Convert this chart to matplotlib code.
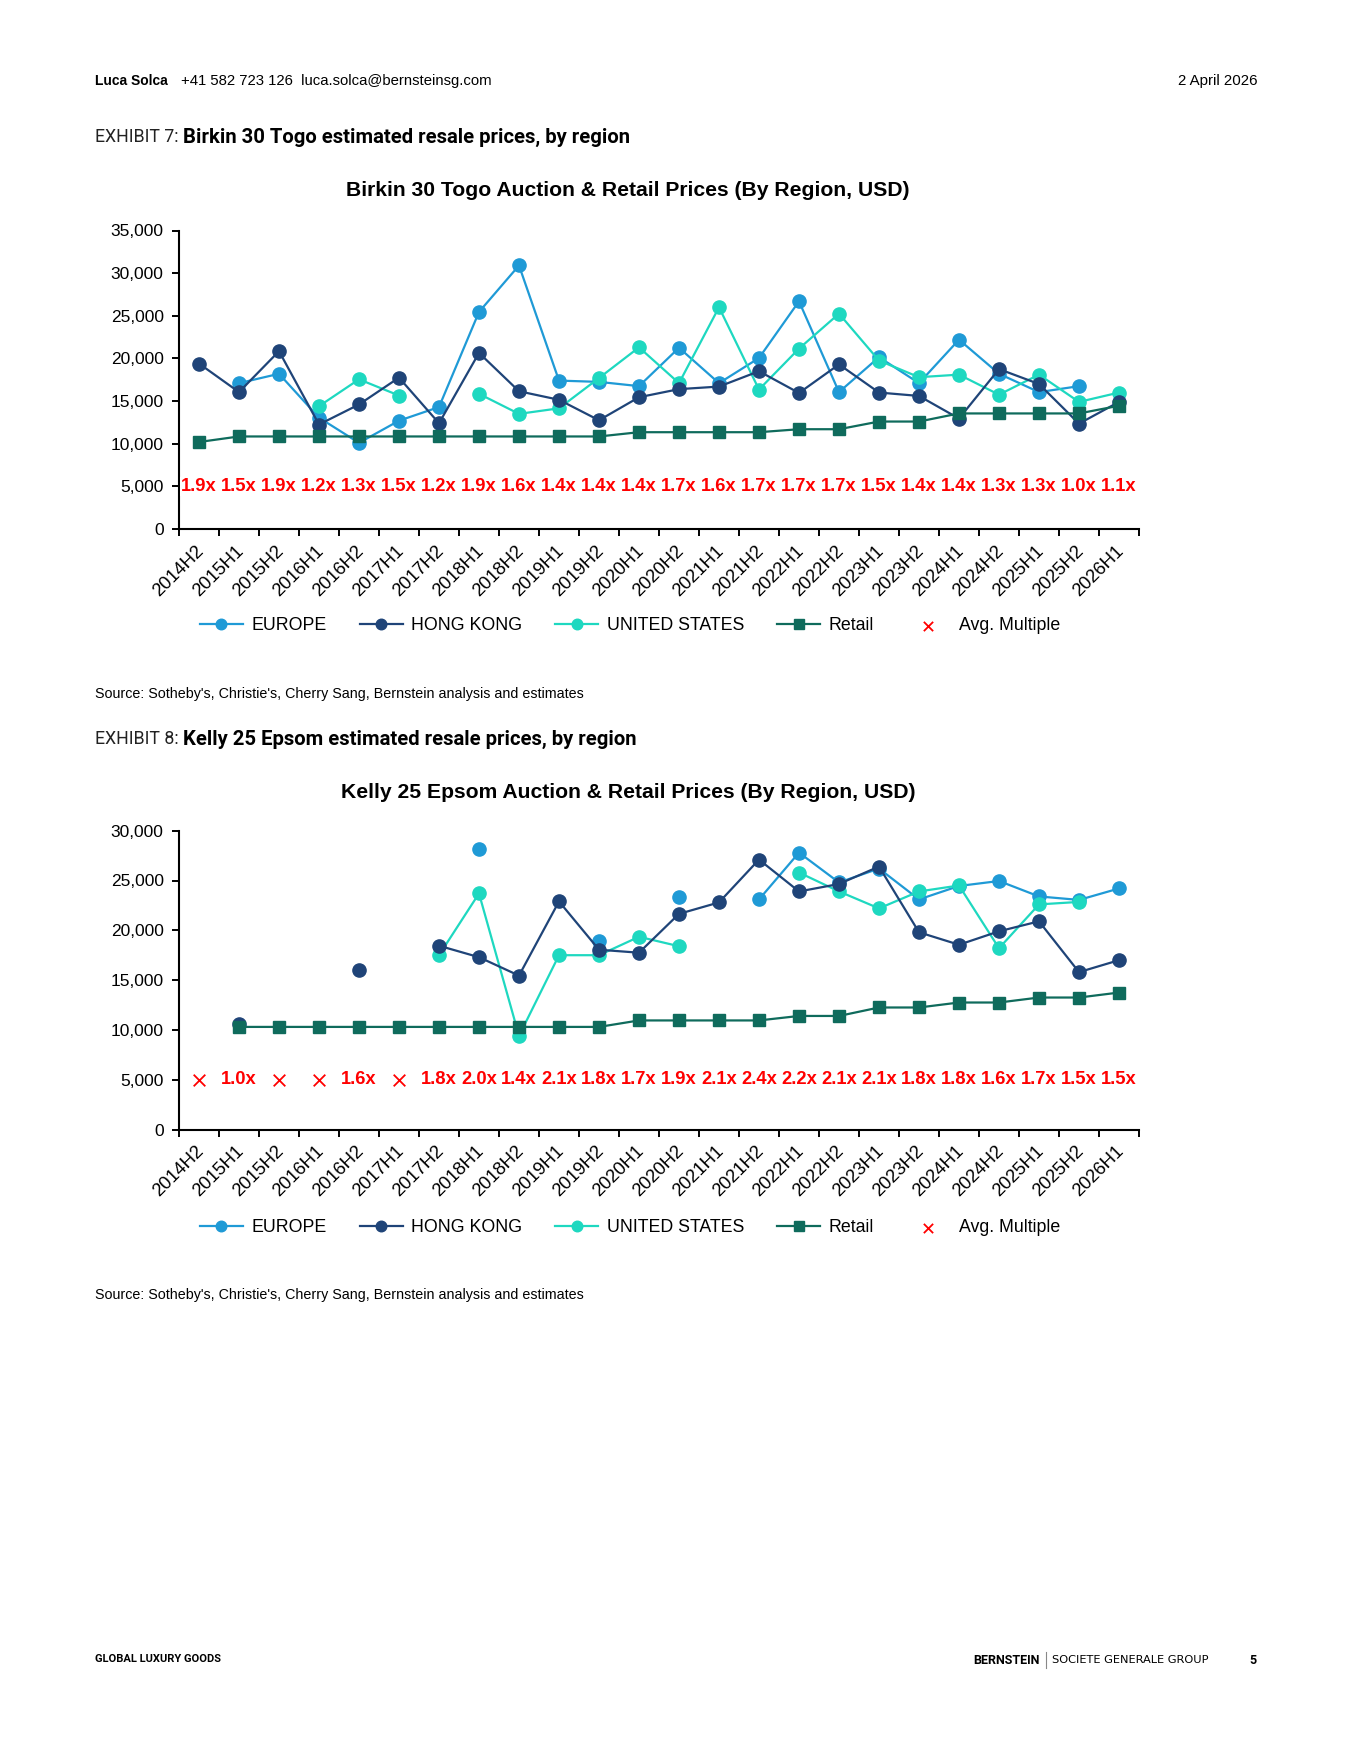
import numpy as np
import matplotlib
matplotlib.use("Agg")
import matplotlib.pyplot as plt
import matplotlib.transforms as mtransforms
from matplotlib.lines import Line2D
from matplotlib.ticker import FuncFormatter

nan = np.nan

# categories (half years)
cats = ['2014H2', '2015H1', '2015H2', '2016H1', '2016H2', '2017H1', '2017H2', '2018H1',
        '2018H2', '2019H1', '2019H2', '2020H1', '2020H2', '2021H1', '2021H2', '2022H1',
        '2022H2', '2023H1', '2023H2', '2024H1', '2024H2', '2025H1', '2025H2', '2026H1']

# Birkin 30 Togo
birkin_europe = [nan, 17100, 18200, 13050, 10100, 12700, 14300, 25450, 30900, 17400, 17250, 16750,
                 21250, 17100, 20050, 26700, 16050, 20150, 17100, 22200, 18200, 16050, 16750, nan]
birkin_hk = [19400, 16050, 20850, 12250, 14600, 17750, 12400, 20650, 16150, 15150, 12750, 15450,
             16400, 16700, 18500, 15950, 19300, 16000, 15600, 12950, 18750, 17000, 12350, 14900]
birkin_us = [nan, nan, nan, 14400, 17550, 15650, nan, 15850, 13500, 14150, 17700, 21300,
             17100, 26000, 16350, 21150, 25250, 19750, 17800, 18100, 15750, 18100, 14900, 16000]
birkin_retail = [10200, 10850, 10850, 10850, 10850, 10850, 10850, 10850, 10850, 10850, 10850, 11350,
                 11350, 11350, 11350, 11700, 11700, 12600, 12600, 13550, 13550, 13550, 13550, 14450]
birkin_mult = [1.9, 1.5, 1.9, 1.2, 1.3, 1.5, 1.2, 1.9, 1.6, 1.4, 1.4, 1.4,
               1.7, 1.6, 1.7, 1.7, 1.7, 1.5, 1.4, 1.4, 1.3, 1.3, 1.0, 1.1]

# Kelly 25 Epsom
kelly_europe = [nan, nan, nan, nan, nan, nan, nan, 28200, nan, nan, 18950, nan,
                23350, nan, 23100, 27800, 24800, 26200, 23100, 24450, 24950, 23400, 23050, 24200]
kelly_hk = [nan, 10600, nan, nan, 16000, nan, 18450, 17300, 15450, 22900, 18050, 17750,
            21650, 22800, 27100, 23900, 24650, 26400, 19800, 18550, 19900, 20900, 15800, 17000]
kelly_us = [nan, nan, nan, nan, nan, nan, 17500, 23700, 9400, 17500, 17500, 19350,
            18400, nan, nan, 25800, 23900, 22200, 23900, 24500, 18200, 22600, 22850, nan]
kelly_retail = [nan, 10300, 10300, 10300, 10300, 10300, 10300, 10300, 10300, 10300, 10300, 10950,
                10950, 10950, 10950, 11400, 11400, 12250, 12250, 12750, 12750, 13250, 13250, 13750]
kelly_mult = [nan, 1.0, nan, nan, 1.6, nan, 1.8, 2.0, 1.4, 2.1, 1.8, 1.7,
              1.9, 2.1, 2.4, 2.2, 2.1, 2.1, 1.8, 1.8, 1.6, 1.7, 1.5, 1.5]

MULT_Y = 5000

C_EU = '#1f9ad6'
C_HK = '#1f4478'
C_US = '#1ed8c0'
C_RT = '#0f6b5c'
C_RED = '#ff0000'

FONT = 'Liberation Sans'
plt.rcParams['font.family'] = [FONT, 'DejaVu Sans']

W, H = 1354, 1753
fig = plt.figure(figsize=(W / 100, H / 100), dpi=100)


def fx(px):
    return px / W


def fy(py):
    return 1 - py / H


def draw_chart(rect, europe, hk, us, retail, mult, ymax, title, title_y, legend_y):
    ax = fig.add_axes(rect)
    x = np.arange(len(cats))
    lw = 1.6
    ax.plot(x, europe, color=C_EU, lw=lw, marker='o', ms=9.5, label='EUROPE', zorder=4)
    ax.plot(x, hk, color=C_HK, lw=lw, marker='o', ms=9.5, label='HONG KONG', zorder=5)
    ax.plot(x, us, color=C_US, lw=lw, marker='o', ms=9.5, label='UNITED STATES', zorder=4)
    ax.plot(x, retail, color=C_RT, lw=lw, marker='s', ms=9, label='Retail', zorder=6)
    ax.scatter(x, [MULT_Y] * len(x), marker='x', color=C_RED, s=70, linewidths=1.3,
               label='Avg. Multiple', zorder=3, clip_on=False)
    for i, m in enumerate(mult):
        if not np.isnan(m):
            ax.text(i, MULT_Y, '%.1fx' % m, color=C_RED, fontsize=13.2, fontweight='bold',
                    ha='center', va='center', zorder=7, clip_on=False,
                    bbox=dict(boxstyle='square,pad=0.05', fc='white', ec='none'))

    ax.set_xlim(-0.5, len(cats) - 0.5)
    ax.set_ylim(0, ymax)
    ax.set_yticks(np.arange(0, ymax + 1, 5000))
    ax.yaxis.set_major_formatter(FuncFormatter(lambda v, p: '{:,.0f}'.format(v)))
    ax.set_xticks(x)
    ax.set_xticklabels(cats, rotation=45, ha='right', rotation_mode='anchor')
    ax.set_xticks(np.arange(-0.5, len(cats), 1), minor=True)
    ax.tick_params(axis='x', which='major', length=0, pad=8, labelsize=13.2)
    ax.tick_params(axis='x', which='minor', length=5, width=1.4, direction='out')
    ax.tick_params(axis='y', length=5, width=1.4, pad=6, labelsize=12.5)
    shift = mtransforms.ScaledTranslation(-4 / 100, -2 / 100, fig.dpi_scale_trans)
    for lab in ax.get_xticklabels():
        lab.set_transform(lab.get_transform() + shift)
    for s in ['top', 'right']:
        ax.spines[s].set_visible(False)
    for s in ['left', 'bottom']:
        ax.spines[s].set_linewidth(1.5)
        ax.spines[s].set_color('black')

    fig.text(fx(628), fy(title_y), title, fontsize=15.2, fontweight='bold',
             ha='center', va='center')

    handles, labels = ax.get_legend_handles_labels()
    fig.legend(handles, labels, loc='center', bbox_to_anchor=(fx(630), fy(legend_y)),
               ncol=5, frameon=False, fontsize=12.8, handlelength=2.4,
               handletextpad=0.5, columnspacing=1.85, markerscale=0.8)
    return ax


draw_chart([fx(179), fy(529), fx(1139) - fx(179), fy(230.5) - fy(529)],
           birkin_europe, birkin_hk, birkin_us, birkin_retail, birkin_mult, 35000,
           'Birkin 30 Togo Auction & Retail Prices (By Region, USD)', 191, 626)
draw_chart([fx(179), fy(1129.5), fx(1139) - fx(179), fy(830.7) - fy(1129.5)],
           kelly_europe, kelly_hk, kelly_us, kelly_retail, kelly_mult, 30000,
           'Kelly 25 Epsom Auction & Retail Prices (By Region, USD)', 792, 1228)

# header
fig.text(fx(95), fy(81), 'Luca Solca', fontsize=10, fontweight='bold', va='center')
fig.text(fx(181), fy(81), '+41 582 723 126  luca.solca@bernsteinsg.com', fontsize=10.7, va='center')
fig.text(fx(1257), fy(81), '2 April 2026', fontsize=10.8, va='center', ha='right')

# exhibit titles
for ypos, num, txt in [(137, '7', 'Birkin 30 Togo estimated resale prices, by region'),
                       (739, '8', 'Kelly 25 Epsom estimated resale prices, by region')]:
    fig.text(fx(95), fy(ypos), 'EXHIBIT %s:' % num, fontsize=12.8, family=['Roboto', 'DejaVu Sans'],
             color='#222222', va='center')
    fig.text(fx(183), fy(ypos), txt, fontsize=14.6, family=['Roboto', 'DejaVu Sans'],
             fontweight='bold', va='center')

# sources
src = "Source: Sotheby's, Christie's, Cherry Sang, Bernstein analysis and estimates"
fig.text(fx(95), fy(694), src, fontsize=10.3, va='center')
fig.text(fx(95), fy(1294.5), src, fontsize=10.3, va='center')

# footer
fig.text(fx(95), fy(1659), 'GLOBAL LUXURY GOODS', fontsize=8, fontweight='bold',
         family=['Roboto', 'DejaVu Sans'], va='center')
fig.text(fx(1040), fy(1660), 'BERNSTEIN', fontsize=9, fontweight='bold',
         family=['Roboto', 'DejaVu Sans'], va='center', ha='right')
fig.add_artist(Line2D([fx(1046), fx(1046)], [fy(1652), fy(1668)], color='#888888', lw=0.8))
fig.text(fx(1052), fy(1660), 'SOCIETE GENERALE GROUP', fontsize=8.2,
         family=['DejaVu Sans'], va='center')
fig.text(fx(1253), fy(1660), '5', fontsize=9, fontweight='bold',
         family=['Roboto', 'DejaVu Sans'], va='center', ha='center')

fig.savefig('out.png', dpi=100, facecolor='white')
